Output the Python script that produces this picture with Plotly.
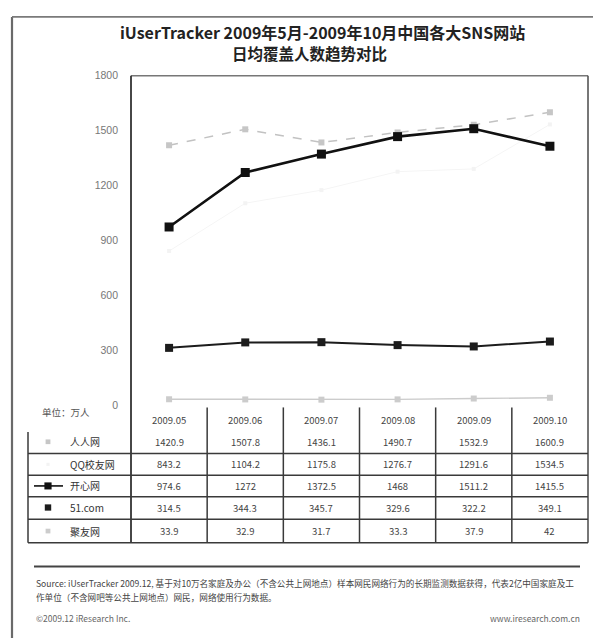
import plotly.graph_objects as go

# ---------------- data ----------------
months = ["2009.05", "2009.06", "2009.07", "2009.08", "2009.09", "2009.10"]
series_names = ["人人网", "QQ校友网", "开心网", "51.com", "聚友网"]
renren = [1420.9, 1507.8, 1436.1, 1490.7, 1532.9, 1600.9]
qq_xiaoyou = [843.2, 1104.2, 1175.8, 1276.7, 1291.6, 1534.5]
kaixin = [974.6, 1272.0, 1372.5, 1468.0, 1511.2, 1415.5]
wu_yi = [314.5, 344.3, 345.7, 329.6, 322.2, 349.1]
juyou = [33.9, 32.9, 31.7, 33.3, 37.9, 42.0]
y_ticks = [0, 300, 600, 900, 1200, 1500, 1800]
unit_label = "单位：万人"

title_line1 = "iUserTracker 2009年5月-2009年10月中国各大SNS网站"
title_line2 = "日均覆盖人数趋势对比"
source_line1 = ("Source: iUserTracker 2009.12, 基于对10万名家庭及办公（不含公共上网地点）"
                "样本网民网络行为的长期监测数据获得，代表2亿中国家庭及工")
source_line2 = "作单位（不含网吧等公共上网地点）网民，网络使用行为数据。"
copyright_text = "©2009.12 iResearch Inc."
site_text = "www.iresearch.com.cn"

values = [renren, qq_xiaoyou, kaixin, wu_yi, juyou]

# ---------------- styles ----------------
OFF = 8                      # default page margin of the html body
W, H = 601 - OFF, 644 - OFF
FONT = "Noto Sans CJK SC, Noto Sans, sans-serif"
styles = [
    dict(color="#c2c2c2", width=1.5, dash="dash", msize=6, mcolor="#c6c6c6"),
    dict(color="#f5f5f5", width=1.0, dash="solid", msize=4, mcolor="#f3f3f3"),
    dict(color="#111111", width=2.6, dash="solid", msize=9, mcolor="#111111"),
    dict(color="#1c1c1c", width=2.0, dash="solid", msize=8, mcolor="#1c1c1c"),
    dict(color="#cccccc", width=1.4, dash="solid", msize=6, mcolor="#cccccc"),
]

PX_L, PX_R = 131, 588      # plot area x in page pixels
PY_T, PY_B = 71, 407       # plot area y in page pixels (top of range, zero line)
TABLE_BOTTOM = 547
TABLE_LEFT = 28


def px(x):
    return (x - OFF) / W


def py(y):
    return 1 - (y - OFF) / H


fig = go.Figure()
for name, vals, st in zip(series_names, values, styles):
    fig.add_trace(go.Scatter(
        x=months, y=vals, name=name, mode="lines+markers",
        line=dict(color=st["color"], width=st["width"], dash=st["dash"]),
        marker=dict(symbol="square", size=st["msize"], color=st["mcolor"]),
        showlegend=False, cliponaxis=False,
    ))

shapes = []
annotations = []
LINE = dict(color="#3a3a3a", width=1.5)

# outer frame (left + top)
shapes.append(dict(type="line", xref="paper", yref="paper", x0=px(12), x1=px(12), y0=py(11), y1=py(644),
                   line=dict(color="#6a6a6a", width=2.2)))
shapes.append(dict(type="line", xref="paper", yref="paper", x0=px(12), x1=1, y0=py(11), y1=py(11),
                   line=dict(color="#7a7a7a", width=1.8)))

# plot frame extending into table
shapes.append(dict(type="line", xref="paper", yref="paper", x0=px(PX_L), x1=px(PX_R), y0=py(PY_T), y1=py(PY_T),
                   line=dict(color="#777", width=1.4)))
shapes.append(dict(type="line", xref="paper", yref="paper", x0=px(PX_L), x1=px(PX_L), y0=py(PY_T), y1=py(TABLE_BOTTOM),
                   line=dict(color="#333", width=1.8)))
shapes.append(dict(type="line", xref="paper", yref="paper", x0=px(PX_R), x1=px(PX_R), y0=py(PY_T), y1=py(TABLE_BOTTOM),
                   line=dict(color="#555", width=1.6)))

# table column separators
n = len(months)
col_w = (PX_R - PX_L) / n
for k in range(1, n):
    xk = PX_L + col_w * k
    shapes.append(dict(type="line", xref="paper", yref="paper", x0=px(xk), x1=px(xk), y0=py(409), y1=py(TABLE_BOTTOM),
                       line=LINE))

# table rows
row_lines = [456, 478, 500, 523, TABLE_BOTTOM]
for yl in row_lines:
    shapes.append(dict(type="line", xref="paper", yref="paper", x0=px(TABLE_LEFT), x1=px(PX_R), y0=py(yl), y1=py(yl),
                       line=LINE))
shapes.append(dict(type="line", xref="paper", yref="paper", x0=px(TABLE_LEFT), x1=px(TABLE_LEFT), y0=py(434), y1=py(TABLE_BOTTOM),
                   line=LINE))

# header
header_y = 422
row_y = [444, 467, 489, 511, 535]
tf = dict(family=FONT, size=9.5, color="#444")
annotations.append(dict(x=px(40), y=py(414), xref="paper", yref="paper", text=unit_label, showarrow=False,
                        xanchor="left", yanchor="middle", font=dict(family=FONT, size=9.5, color="#555")))
for k, m in enumerate(months):
    cx = PX_L + col_w * (k + 0.5)
    annotations.append(dict(x=px(cx), y=py(header_y), xref="paper", yref="paper", text=m, showarrow=False,
                            xanchor="center", yanchor="middle", font=tf))
for r, (name, vals, st) in enumerate(zip(series_names, values, styles)):
    ry = row_y[r]
    annotations.append(dict(x=px(68), y=py(ry), xref="paper", yref="paper", text=name, showarrow=False,
                            xanchor="left", yanchor="middle", font=dict(family=FONT, size=10, color="#333")))
    # legend symbol
    if name == "开心网":
        shapes.append(dict(type="line", xref="paper", yref="paper", x0=px(34), x1=px(63), y0=py(ry), y1=py(ry),
                           line=dict(color=st["color"], width=1.6)))
    ms = st["msize"] * 0.8
    shapes.append(dict(type="rect", xref="paper", yref="paper", x0=px(48 - ms / 2), x1=px(48 + ms / 2),
                       y0=py(ry - ms / 2), y1=py(ry + ms / 2), fillcolor=st["mcolor"], line=dict(width=0)))
    for k, v in enumerate(vals):
        cx = PX_L + col_w * (k + 0.5)
        annotations.append(dict(x=px(cx), y=py(ry), xref="paper", yref="paper", text=f"{v:g}", showarrow=False,
                                xanchor="center", yanchor="middle", font=tf))

# title
annotations.append(dict(x=px(322), y=py(26), xref="paper", yref="paper", text="<b>" + title_line1 + "</b>",
                        showarrow=False, xanchor="center", yanchor="middle",
                        font=dict(family=FONT, size=16, color="#222")))
annotations.append(dict(x=px(310), y=py(48), xref="paper", yref="paper", text="<b>" + title_line2 + "</b>",
                        showarrow=False, xanchor="center", yanchor="middle",
                        font=dict(family=FONT, size=15.5, color="#222")))

# footer
shapes.append(dict(type="line", xref="paper", yref="paper", x0=px(34), x1=px(580), y0=py(571), y1=py(571),
                   line=dict(color="#444", width=2)))
sf = dict(family=FONT, size=8.6, color="#444")
annotations.append(dict(x=px(34), y=py(588), xref="paper", yref="paper", text=source_line1, showarrow=False,
                        xanchor="left", yanchor="middle", font=sf))
annotations.append(dict(x=px(34), y=py(602), xref="paper", yref="paper", text=source_line2, showarrow=False,
                        xanchor="left", yanchor="middle", font=sf))
annotations.append(dict(x=px(34), y=py(624), xref="paper", yref="paper", text=copyright_text, showarrow=False,
                        xanchor="left", yanchor="middle", font=dict(family=FONT, size=8.5, color="#666")))
annotations.append(dict(x=px(582), y=py(624), xref="paper", yref="paper", text=site_text, showarrow=False,
                        xanchor="right", yanchor="middle", font=dict(family=FONT, size=8.5, color="#666")))

fig.update_layout(
    width=W, height=H, margin=dict(l=0, r=0, t=0, b=0),
    paper_bgcolor="white", plot_bgcolor="white",
    xaxis=dict(domain=[px(PX_L), px(PX_R)], type="category", range=[-0.5, n - 0.5],
               showticklabels=False, showgrid=False, zeroline=False, showline=False, ticks=""),
    yaxis=dict(domain=[py(PY_B), py(PY_T)], range=[0, 1800], tickvals=y_ticks,
               ticktext=[str(t) for t in y_ticks], showgrid=False, zeroline=False, showline=False,
               ticks="", ticklabelstandoff=12, tickfont=dict(family="Liberation Sans, Arial", size=10.5, color="#777")),
    shapes=shapes, annotations=annotations, showlegend=False,
)

fig.write_html("out.html")
